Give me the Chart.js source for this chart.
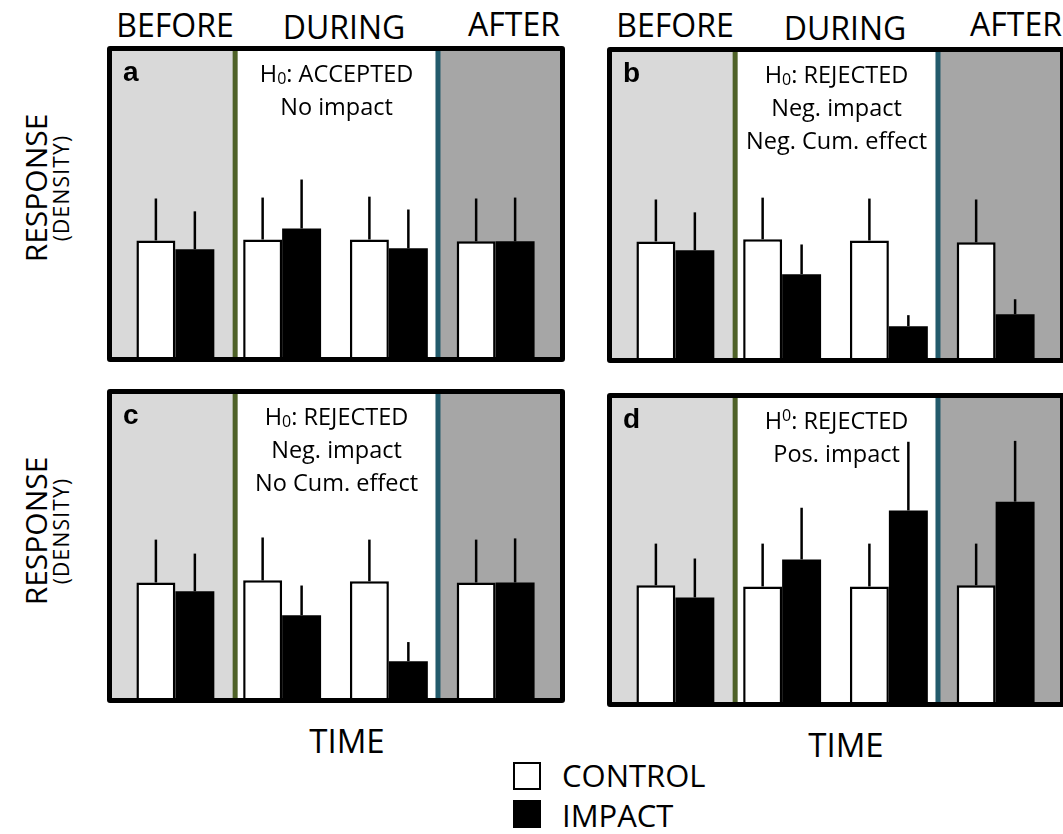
<!DOCTYPE html>
<html lang="en">
<head>
<meta charset="UTF-8">
<title>BACI response</title>
<script src="https://cdn.jsdelivr.net/npm/chart.js"></script>
<style>
  body { margin: 0; width: 1063px; height: 834px; overflow: hidden; position: relative; background: #fff; font-family: 'Open Sans', sans-serif; color: #000; }
  .t { position: absolute; white-space: nowrap; line-height: 1; }
  .c { transform: translateX(-50%); }
  .rot { transform: translate(-50%, -50%) rotate(-90deg); }
  .panel { position: absolute; border: 5px solid #000; border-radius: 3px; }
  .panel canvas { display: block; }
  .box { position: absolute; width: 28px; height: 28px; box-sizing: border-box; border: 2px solid #000; }
</style>
</head>
<body>

<!-- column headers -->
<div class="t c" style="left:175px; top:9px; font-size:32px">BEFORE</div>
<div class="t c" style="left:344px; top:11px; font-size:32px">DURING</div>
<div class="t c" style="left:514px; top:8px; font-size:32px">AFTER</div>
<div class="t c" style="left:675px; top:9px; font-size:32px">BEFORE</div>
<div class="t c" style="left:845px; top:12px; font-size:32px">DURING</div>
<div class="t" style="left:970px; top:8px; font-size:32px">AFTER</div>

<!-- y labels -->
<div class="t rot" style="left:36px; top:188px; font-size:30px">RESPONSE</div>
<div class="t rot" style="left:61px; top:188px; font-size:21px; letter-spacing:1.2px">(DENSITY)</div>
<div class="t rot" style="left:36px; top:531px; font-size:30px">RESPONSE</div>
<div class="t rot" style="left:61px; top:531px; font-size:21px; letter-spacing:1.2px">(DENSITY)</div>

<div class="panel" style="left:107px; top:46px"><canvas id="chartA" width="448" height="306"></canvas></div>
<div class="panel" style="left:607px; top:47px"><canvas id="chartB" width="448" height="306"></canvas></div>
<div class="panel" style="left:107px; top:389px"><canvas id="chartC" width="448" height="304"></canvas></div>
<div class="panel" style="left:607px; top:393px"><canvas id="chartD" width="448" height="304"></canvas></div>

<!-- x labels -->
<div class="t c" style="left:347px; top:724px; font-size:33px">TIME</div>
<div class="t c" style="left:846px; top:728px; font-size:33px">TIME</div>

<!-- legend -->
<div class="box" style="left:513px; top:762px; background:#fff"></div>
<div class="t" style="left:562px; top:760px; font-size:31px">CONTROL</div>
<div class="box" style="left:513px; top:800px; background:#000"></div>
<div class="t" style="left:562px; top:800px; font-size:31px">IMPACT</div>

<script>
    // sampling times: one before, two during, one after
    var times = ['Before', 'During 1', 'During 2', 'After'];

    // panel a - no impact
    var controlA    = [38.1, 38.4, 38.4, 37.8];
    var controlErrA = [13.7, 13.7, 14.0, 14.0];
    var impactA     = [35.2, 42.0, 35.5, 37.8];
    var impactErrA  = [12.4, 16.0, 12.7, 14.3];
    var notesA = ['H₀: ACCEPTED', 'No impact'];

    // panel b - negative impact, cumulative
    var controlB    = [38.1, 38.8, 38.4, 37.8];
    var controlErrB = [13.7, 13.6, 13.7, 14.0];
    var impactB     = [35.2, 27.4, 10.4, 14.3];
    var impactErrB  = [12.4, 9.7, 3.6, 4.9];
    var notesB = ['H₀: REJECTED', 'Neg. impact', 'Neg. Cum. effect'];

    // panel c - negative impact, recovers after
    var controlC    = [38.0, 38.7, 38.4, 38.0];
    var controlErrC = [14.1, 14.1, 13.7, 14.1];
    var impactC     = [35.1, 27.2, 12.1, 38.0];
    var impactErrC  = [12.4, 9.8, 6.3, 14.5];
    var notesC = ['H₀: REJECTED', 'Neg. impact', 'No Cum. effect'];

    // panel d - positive impact
    var controlD    = [38.4, 38.0, 38.0, 38.4];
    var controlErrD = [13.7, 14.1, 14.1, 13.7];
    var impactD     = [34.4, 46.9, 63.0, 65.9];
    var impactErrD  = [12.8, 17.0, 22.6, 20.0];
    var notesD = ['H⁰: REJECTED', 'Pos. impact'];

    // phase borders, in category index units (between Before|During 1 and During 2|After)
    var EDGE1 = 0.56, EDGE2 = 2.46;

    // draws a line of text, turning ₀ / ⁰ into a small lowered / raised 0
    function drawNote(ctx, text, cx, y) {
        var parts = text.split(/([₀⁰])/).filter(function (p) { return p !== ''; });
        var big = "23.5px 'Open Sans'", small = "16px 'Open Sans'";
        var w = 0;
        parts.forEach(function (p) {
            ctx.font = (p === '₀' || p === '⁰') ? small : big;
            w += ctx.measureText(p === '₀' || p === '⁰' ? '0' : p).width;
        });
        var x = cx - w / 2;
        ctx.textAlign = 'left';
        ctx.textBaseline = 'alphabetic';
        parts.forEach(function (p) {
            if (p === '₀' || p === '⁰') {
                ctx.font = small;
                ctx.fillText('0', x, p === '₀' ? y + 2 : y - 8);
                x += ctx.measureText('0').width;
            } else {
                ctx.font = big;
                ctx.fillText(p, x, y);
                x += ctx.measureText(p).width;
            }
        });
    }

    var baciPlugin = {
        id: 'baci',
        beforeDatasetsDraw: function (chart) {
            var ctx = chart.ctx, x = chart.scales.x, w = chart.width, h = chart.height;
            var e1 = x.getPixelForValue(EDGE1), e2 = x.getPixelForValue(EDGE2);
            ctx.save();
            ctx.fillStyle = '#fff';
            ctx.fillRect(0, 0, w, h);
            ctx.fillStyle = '#d9d9d9';
            ctx.fillRect(0, 0, e1, h);
            ctx.fillStyle = '#a6a6a6';
            ctx.fillRect(e2, 0, w - e2, h);
            ctx.lineWidth = 5;
            ctx.strokeStyle = '#4f6228';
            ctx.beginPath(); ctx.moveTo(e1, 0); ctx.lineTo(e1, h); ctx.stroke();
            ctx.strokeStyle = '#235b6c';
            ctx.beginPath(); ctx.moveTo(e2, 0); ctx.lineTo(e2, h); ctx.stroke();
            ctx.restore();
        },
        afterDatasetsDraw: function (chart) {
            var ctx = chart.ctx, y = chart.scales.y;
            ctx.save();
            ctx.strokeStyle = '#000';
            ctx.lineWidth = 2.5;
            chart.data.datasets.forEach(function (ds, i) {
                chart.getDatasetMeta(i).data.forEach(function (bar, j) {
                    var top = y.getPixelForValue(ds.data[j] + ds.errors[j]);
                    ctx.beginPath();
                    ctx.moveTo(bar.x, bar.y);
                    ctx.lineTo(bar.x, top);
                    ctx.stroke();
                });
            });
            ctx.restore();
        },
        afterDraw: function (chart, args, opts) {
            var ctx = chart.ctx, a = chart.chartArea, x = chart.scales.x;
            ctx.save();
            ctx.fillStyle = '#000';
            ctx.font = "bold 28px 'Liberation Sans'";
            ctx.textAlign = 'left';
            ctx.textBaseline = 'alphabetic';
            ctx.fillText(opts.letter, 11, a.top + 30);
            var cx = (x.getPixelForValue(EDGE1) + x.getPixelForValue(EDGE2)) / 2;
            opts.notes.forEach(function (line, k) {
                drawNote(ctx, line, cx, a.top + 31 + k * 33);
            });
            ctx.restore();
        }
    };

    function makePanel(id, letter, control, controlErr, impact, impactErr, notes) {
        var ctx = document.getElementById(id).getContext('2d');
        return new Chart(ctx, {
            type: 'bar',
            data: {
                labels: times,
                datasets: [
                    { label: 'CONTROL', data: control, errors: controlErr,
                      backgroundColor: '#fff', borderColor: '#000', borderWidth: 2.5 },
                    { label: 'IMPACT', data: impact, errors: impactErr,
                      backgroundColor: '#000', borderColor: '#000', borderWidth: 0 }
                ]
            },
            options: {
                responsive: false,
                animation: false,
                devicePixelRatio: 1,
                layout: { padding: { left: 10, right: 11, top: 0, bottom: 0 } },
                datasets: { bar: { categoryPercentage: 0.73, barPercentage: 1 } },
                scales: {
                    x: { display: false, offset: true },
                    y: { display: false, min: 0, max: 100 }
                },
                plugins: {
                    legend: { display: false },
                    tooltip: { enabled: false },
                    baci: { letter: letter, notes: notes }
                }
            },
            plugins: [baciPlugin]
        });
    }

    document.fonts.load("22px 'Open Sans'").then(function () {
        makePanel('chartA', 'a', controlA, controlErrA, impactA, impactErrA, notesA);
        makePanel('chartB', 'b', controlB, controlErrB, impactB, impactErrB, notesB);
        makePanel('chartC', 'c', controlC, controlErrC, impactC, impactErrC, notesC);
        makePanel('chartD', 'd', controlD, controlErrD, impactD, impactErrD, notesD);
    });
</script>
</body>
</html>
